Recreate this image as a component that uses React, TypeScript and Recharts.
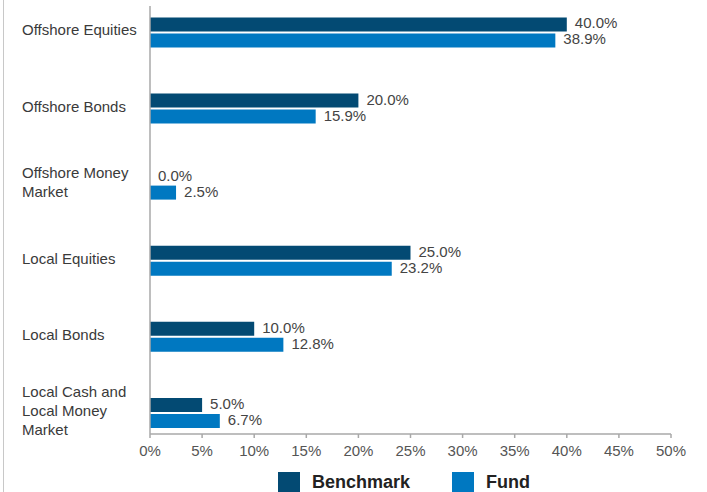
import React from "react";
import { BarChart, Bar, XAxis, YAxis, LabelList } from "recharts";

const categories = [
  "Offshore Equities",
  "Offshore Bonds",
  "Offshore Money Market",
  "Local Equities",
  "Local Bonds",
  "Local Cash and Local Money Market",
];
const benchmark = [40.0, 20.0, 0.0, 25.0, 10.0, 5.0];
const fund = [38.9, 15.9, 2.5, 23.2, 12.8, 6.7];
const xTicks = [0, 5, 10, 15, 20, 25, 30, 35, 40, 45, 50];

const data = categories.map((name, i) => ({
  name,
  Benchmark: benchmark[i],
  Fund: fund[i],
}));

const FONT = '"Liberation Sans", Arial, Helvetica, sans-serif';
const C_BENCH = "#034a73";
const C_FUND = "#0078c1";
const series = [
  { key: "Benchmark", color: C_BENCH },
  { key: "Fund", color: C_FUND },
];

let ctx: CanvasRenderingContext2D | null = null;
function measure(t: string) {
  if (!ctx) {
    ctx = document.createElement("canvas").getContext("2d");
  }
  if (!ctx) return t.length * 7.5;
  ctx.font = `15px ${FONT}`;
  return ctx.measureText(t).width;
}
function wrap(text: string, maxW: number) {
  const words = text.split(" ");
  const lines: string[] = [];
  let cur = "";
  for (const w of words) {
    const next = cur ? cur + " " + w : w;
    if (measure(next) > maxW && cur) {
      lines.push(cur);
      cur = w;
    } else cur = next;
  }
  if (cur) lines.push(cur);
  return lines;
}

const CatTick = (props: any) => {
  const { y, payload } = props;
  const lines = wrap(String(payload.value), 120);
  const lh = 19;
  const start = -((lines.length - 1) / 2) * lh;
  return (
    <text x={22} y={y} textAnchor="start" fill="#3a3a3a" fontSize={15} fontFamily={FONT}>
      {lines.map((l, i) => (
        <tspan key={i} x={22} dy={i === 0 ? start + 3 : lh}>
          {l}
        </tspan>
      ))}
    </text>
  );
};

const fmt = (v: any) => `${Number(v).toFixed(1)}%`;

const ValueLabel = (p: any) => {
  const w = Number(p.width || 0);
  const x = Number(p.x) + (w < 0.5 ? 0 : w) + 8;
  const y = Number(p.y) + Number(p.height || 0) / 2;
  return (
    <text x={x} y={y} dy={4} fill="#444" fontSize={15} fontFamily={FONT} textAnchor="start">
      {fmt(p.value)}
    </text>
  );
};

export default function App() {
  return (
    <div
      style={{
        position: "absolute",
        left: 0,
        top: 0,
        width: 707,
        height: 492,
        overflow: "hidden",
        background: "#fff",
      }}
    >
      <div
        style={{
          position: "absolute",
          left: 3,
          top: 0,
          width: 1,
          height: 492,
          background: "#c8c8c8",
        }}
      />
      <BarChart
        width={707}
        height={500}
        data={data}
        layout="vertical"
        margin={{ top: 6, right: 36, bottom: 36, left: 0 }}
        barGap={2}
        barSize={14}
      >
        <XAxis
          type="number"
          domain={[0, 50]}
          ticks={xTicks}
          interval={0}
          height={30}
          tickFormatter={(v) => `${v}%`}
          axisLine={{ stroke: "#a8a8a8", strokeWidth: 1.5 }}
          tickLine={{ stroke: "#a8a8a8", strokeWidth: 1.5 }}
          tickSize={4}
          tickMargin={7}
          tick={{ fill: "#555", fontSize: 15, fontFamily: FONT }}
        />
        <YAxis
          type="category"
          dataKey="name"
          width={150}
          axisLine={{ stroke: "#a8a8a8", strokeWidth: 1.5 }}
          tickLine={false}
          tick={<CatTick />}
          interval={0}
          padding={{ top: -11.6, bottom: -17 } as any}
        />
        <Bar dataKey="Benchmark" fill={C_BENCH} isAnimationActive={false} minPointSize={0.01}>
          <LabelList dataKey="Benchmark" content={<ValueLabel />} />
        </Bar>
        <Bar dataKey="Fund" fill={C_FUND} isAnimationActive={false}>
          <LabelList dataKey="Fund" content={<ValueLabel />} />
        </Bar>
      </BarChart>
      <div
        style={{
          position: "absolute",
          left: 278,
          top: 472,
          display: "flex",
          alignItems: "center",
          fontFamily: FONT,
        }}
      >
        {series.map((s, i) => (
          <div
            key={s.key}
            style={{ display: "flex", alignItems: "center", marginRight: i === 0 ? 42 : 0 }}
          >
            <div style={{ width: 22, height: 21, background: s.color, marginRight: 12 }} />
            <span style={{ fontSize: 18, fontWeight: "bold", color: "#222" }}>{s.key}</span>
          </div>
        ))}
      </div>
    </div>
  );
}
